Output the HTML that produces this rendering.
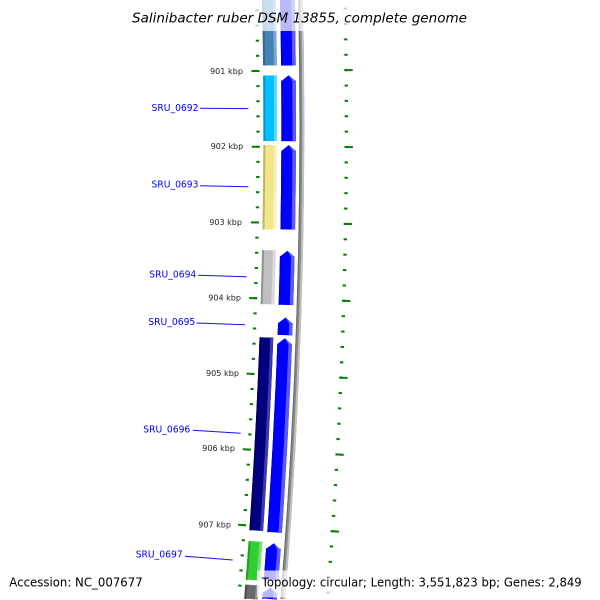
<!DOCTYPE html>
<html><head><meta charset="utf-8"><style>html,body{margin:0;padding:0;background:#fff;width:600px;height:600px;overflow:hidden;}svg{display:block;overflow:hidden;}</style></head>
<body>
<svg width="600" height="600" viewBox="0 0 600 600" xmlns="http://www.w3.org/2000/svg">
<defs>
  <path id="tLm" d="M256.716 0 A5856.15 5856.15 0 0 1 238.836 599"/>
  <path id="tLM" d="M254.415 0 A5853.85 5853.85 0 0 1 236.529 599"/>
  <path id="tRm" d="M345.086 0 A5944.5 5944.5 0 0 1 327.472 599"/>
  <path id="tRM" d="M347.436 0 A5946.85 5946.85 0 0 1 329.83 599"/>
  <path id="C" d="M268.919 0 A5868.35 5868.35 0 0 1 251.076 599"/>
  <path id="Ci" d="M263.067 0 A5862.5 5862.5 0 0 1 245.207 599"/>
  <path id="Co" d="M274.27 0 A5873.7 5873.7 0 0 1 256.444 599"/>
  <path id="B" d="M287.373 0 A5886.8 5886.8 0 0 1 269.586 599"/>
  <path id="Bi" d="M280.571 0 A5880 5880 0 0 1 262.764 599"/>
  <path id="Bo" d="M292.924 0 A5892.35 5892.35 0 0 1 275.154 599"/>
</defs>
<rect x="0" y="0" width="600" height="600" fill="#ffffff"/>
<g fill="none">
  <!-- tick rings -->
  <use href="#tLm" stroke="#008000" stroke-width="3.3" stroke-dasharray="2 13.1499" stroke-dashoffset="5.7595"/>
  <use href="#tLM" stroke="#008000" stroke-width="8" stroke-dasharray="2 73.72" stroke-dashoffset="5.71"/>
  <use href="#tRm" stroke="#008000" stroke-width="3.4" stroke-dasharray="2 13.3784" stroke-dashoffset="7.722"/>
  <use href="#tRM" stroke="#008000" stroke-width="8.4" stroke-dasharray="2 74.923" stroke-dashoffset="7.773"/>

  <!-- COG ring features -->
  <use href="#C" stroke="#4682b4" stroke-width="13.7" stroke-dasharray="65.5 99999" stroke-dashoffset="0"/>
  <use href="#Ci" stroke="#386890" stroke-width="2" stroke-dasharray="65.5 99999" stroke-dashoffset="0"/>
  <use href="#Co" stroke="#78a8d4" stroke-width="3" stroke-dasharray="65.5 99999" stroke-dashoffset="0"/>

  <use href="#C" stroke="#00bfff" stroke-width="13.7" stroke-dasharray="65.5 99999" stroke-dashoffset="-75.5"/>
  <use href="#Ci" stroke="#0098d0" stroke-width="2" stroke-dasharray="65.5 99999" stroke-dashoffset="-75.5"/>
  <use href="#Co" stroke="#60d8ff" stroke-width="3" stroke-dasharray="65.5 99999" stroke-dashoffset="-75.5"/>

  <use href="#C" stroke="#f0e68c" stroke-width="13.7" stroke-dasharray="84.5 99999" stroke-dashoffset="-145"/>
  <use href="#Ci" stroke="#c0b468" stroke-width="2" stroke-dasharray="84.5 99999" stroke-dashoffset="-145"/>
  <use href="#Co" stroke="#f8f2c0" stroke-width="3" stroke-dasharray="84.5 99999" stroke-dashoffset="-145"/>

  <use href="#C" stroke="#c0c0c0" stroke-width="13.7" stroke-dasharray="54 99999" stroke-dashoffset="-250.3"/>
  <use href="#Ci" stroke="#929292" stroke-width="2" stroke-dasharray="54 99999" stroke-dashoffset="-250.3"/>
  <use href="#Co" stroke="#dadada" stroke-width="3" stroke-dasharray="54 99999" stroke-dashoffset="-250.3"/>

  <use href="#C" stroke="#000080" stroke-width="13.7" stroke-dasharray="193.3 99999" stroke-dashoffset="-337.5"/>
  <use href="#Ci" stroke="#000058" stroke-width="2" stroke-dasharray="193.3 99999" stroke-dashoffset="-337.5"/>
  <use href="#Co" stroke="#3c3ca8" stroke-width="3" stroke-dasharray="193.3 99999" stroke-dashoffset="-337.5"/>

  <use href="#C" stroke="#32cd32" stroke-width="13.7" stroke-dasharray="38.7 99999" stroke-dashoffset="-541.8"/>
  <use href="#Ci" stroke="#22a022" stroke-width="2" stroke-dasharray="38.7 99999" stroke-dashoffset="-541.8"/>
  <use href="#Co" stroke="#70e070" stroke-width="3" stroke-dasharray="38.7 99999" stroke-dashoffset="-541.8"/>

  <use href="#C" stroke="#696969" stroke-width="13.7" stroke-dasharray="64.5 99999" stroke-dashoffset="-585.5"/>
  <use href="#Ci" stroke="#4a4a4a" stroke-width="2" stroke-dasharray="64.5 99999" stroke-dashoffset="-585.5"/>
  <use href="#Co" stroke="#959595" stroke-width="3" stroke-dasharray="64.5 99999" stroke-dashoffset="-585.5"/>

  <!-- blue strand features (bodies) -->
  <g stroke="#0000ff" stroke-width="14.6">
    <use href="#B" stroke-dasharray="65.5 99999" stroke-dashoffset="0"/>
    <use href="#B" stroke-dasharray="60.6 99999" stroke-dashoffset="-80.6"/>
    <use href="#B" stroke-dasharray="78.9 99999" stroke-dashoffset="-150.6"/>
    <use href="#B" stroke-dasharray="48.7 99999" stroke-dashoffset="-256.3"/>
    <use href="#B" stroke-dasharray="12.1 99999" stroke-dashoffset="-323.1"/>
    <use href="#B" stroke-dasharray="188.8 99999" stroke-dashoffset="-343.9"/>
    <use href="#B" stroke-dasharray="32.1 99999" stroke-dashoffset="-548.9"/>
    <use href="#B" stroke-dasharray="60.4 99999" stroke-dashoffset="-593.1"/>
  </g>
  <g stroke="#0000c0" stroke-width="1">
    <use href="#Bi" stroke-dasharray="65.5 99999" stroke-dashoffset="0"/>
    <use href="#Bi" stroke-dasharray="60.6 99999" stroke-dashoffset="-80.6"/>
    <use href="#Bi" stroke-dasharray="78.9 99999" stroke-dashoffset="-150.6"/>
    <use href="#Bi" stroke-dasharray="48.7 99999" stroke-dashoffset="-256.3"/>
    <use href="#Bi" stroke-dasharray="12.1 99999" stroke-dashoffset="-323.1"/>
    <use href="#Bi" stroke-dasharray="188.8 99999" stroke-dashoffset="-343.9"/>
    <use href="#Bi" stroke-dasharray="32.1 99999" stroke-dashoffset="-548.9"/>
    <use href="#Bi" stroke-dasharray="60.4 99999" stroke-dashoffset="-593.1"/>
  </g>
  <g stroke="#5a5aff" stroke-width="3.5">
    <use href="#Bo" stroke-dasharray="65.5 99999" stroke-dashoffset="0"/>
    <use href="#Bo" stroke-dasharray="60.6 99999" stroke-dashoffset="-80.6"/>
    <use href="#Bo" stroke-dasharray="78.9 99999" stroke-dashoffset="-150.6"/>
    <use href="#Bo" stroke-dasharray="48.7 99999" stroke-dashoffset="-256.3"/>
    <use href="#Bo" stroke-dasharray="12.1 99999" stroke-dashoffset="-323.1"/>
    <use href="#Bo" stroke-dasharray="188.8 99999" stroke-dashoffset="-343.9"/>
    <use href="#Bo" stroke-dasharray="32.1 99999" stroke-dashoffset="-548.9"/>
    <use href="#Bo" stroke-dasharray="60.4 99999" stroke-dashoffset="-593.1"/>
  </g>

  <!-- backbone -->
  <path d="M300.576 0 A5900 5900 0 0 1 282.829 599" stroke="#888888" stroke-width="4.8"/>
  <path d="M298.675 0 A5898.1 5898.1 0 0 1 280.923 599" stroke="#6a6a6a" stroke-width="1"/>
  <path d="M301.976 0 A5901.4 5901.4 0 0 1 284.234 599" stroke="#c0c0c0" stroke-width="2"/>
</g>

<!-- arrow heads -->
<g fill="#0000ff">
  <polygon points="288.49,75.2 295.84,81.2 281.24,81.2"/>
  <polygon points="288.67,145 295.94,151 281.34,151"/>
  <polygon points="287.36,250.7 294.53,256.86 279.93,256.54"/>
  <polygon points="285.55,317.5 292.65,323.75 278.05,323.25"/>
  <polygon points="284.84,338.3 291.92,344.57 277.32,344.03"/>
  <polygon points="273.84,543.3 280.71,549.83 266.11,548.77"/>
  <polygon points="270.53,587.5 277.36,594.08 262.76,592.92"/>
</g>
<g fill="#5a5aff">
  <polygon points="288.49,75.2 295.84,81.2 292.34,81.2"/>
  <polygon points="288.67,145 295.94,151 292.44,151"/>
  <polygon points="287.36,250.7 294.53,256.86 291.03,256.86"/>
  <polygon points="285.55,317.5 292.65,323.75 289.15,323.75"/>
  <polygon points="284.84,338.3 291.92,344.57 288.42,344.57"/>
  <polygon points="273.84,543.3 280.71,549.83 277.21,549.83"/>
  <polygon points="270.53,587.5 277.36,594.08 273.86,594.08"/>
</g>

<!-- feature label lines -->
<g stroke="#1010ff" stroke-width="1" fill="none">
  <line x1="200" y1="108.3" x2="248.3" y2="108.6"/>
  <line x1="200" y1="185.7" x2="248.3" y2="186.7"/>
  <line x1="198.3" y1="275.3" x2="246.7" y2="276.7"/>
  <line x1="196.7" y1="323" x2="245" y2="324.7"/>
  <line x1="192.7" y1="430.3" x2="240.7" y2="433.3"/>
  <line x1="185" y1="556.3" x2="232.7" y2="560"/>
</g>

<!-- feature labels -->
<g font-family="'DejaVu Sans', 'Liberation Sans', sans-serif" font-size="10" fill="#0000ff">
  <text x="151.5" y="111" textLength="47" lengthAdjust="spacingAndGlyphs">SRU_0692</text>
  <text x="151.5" y="187.7" textLength="47" lengthAdjust="spacingAndGlyphs">SRU_0693</text>
  <text x="149.3" y="277.3" textLength="47" lengthAdjust="spacingAndGlyphs">SRU_0694</text>
  <text x="148.3" y="325" textLength="47" lengthAdjust="spacingAndGlyphs">SRU_0695</text>
  <text x="143.3" y="432.7" textLength="47" lengthAdjust="spacingAndGlyphs">SRU_0696</text>
  <text x="135.7" y="557.7" textLength="47" lengthAdjust="spacingAndGlyphs">SRU_0697</text>
</g>

<!-- tick labels -->
<g font-family="'DejaVu Sans', 'Liberation Sans', sans-serif" font-size="8" fill="#222222">
  <text x="210" y="74" textLength="33" lengthAdjust="spacingAndGlyphs">901 kbp</text>
  <text x="210.7" y="149" textLength="32.5" lengthAdjust="spacingAndGlyphs">902 kbp</text>
  <text x="209.3" y="225" textLength="32.7" lengthAdjust="spacingAndGlyphs">903 kbp</text>
  <text x="208.3" y="300.3" textLength="32.7" lengthAdjust="spacingAndGlyphs">904 kbp</text>
  <text x="206" y="376" textLength="33" lengthAdjust="spacingAndGlyphs">905 kbp</text>
  <text x="202.3" y="451" textLength="32.7" lengthAdjust="spacingAndGlyphs">906 kbp</text>
  <text x="198.3" y="527.3" textLength="32.7" lengthAdjust="spacingAndGlyphs">907 kbp</text>
</g>

<!-- title box & legend box -->
<rect x="128" y="0" width="344" height="31" fill="#ffffff" fill-opacity="0.72"/>
<rect x="257" y="570.5" width="341" height="27" fill="#ffffff" fill-opacity="0.72"/>

<text x="132" y="22.7" font-family="'DejaVu Sans', 'Liberation Sans', sans-serif" font-style="italic" font-size="13" fill="#000" textLength="335" lengthAdjust="spacingAndGlyphs">Salinibacter ruber DSM 13855, complete genome</text>
<text x="9.3" y="586.7" font-family="'DejaVu Sans', 'Liberation Sans', sans-serif" font-size="12" fill="#000" textLength="133.4" lengthAdjust="spacingAndGlyphs">Accession: NC_007677</text>
<text x="261.7" y="586.7" font-family="'DejaVu Sans', 'Liberation Sans', sans-serif" font-size="12" fill="#000" textLength="320" lengthAdjust="spacingAndGlyphs">Topology: circular; Length: 3,551,823 bp; Genes: 2,849</text>
</svg>
</body></html>
